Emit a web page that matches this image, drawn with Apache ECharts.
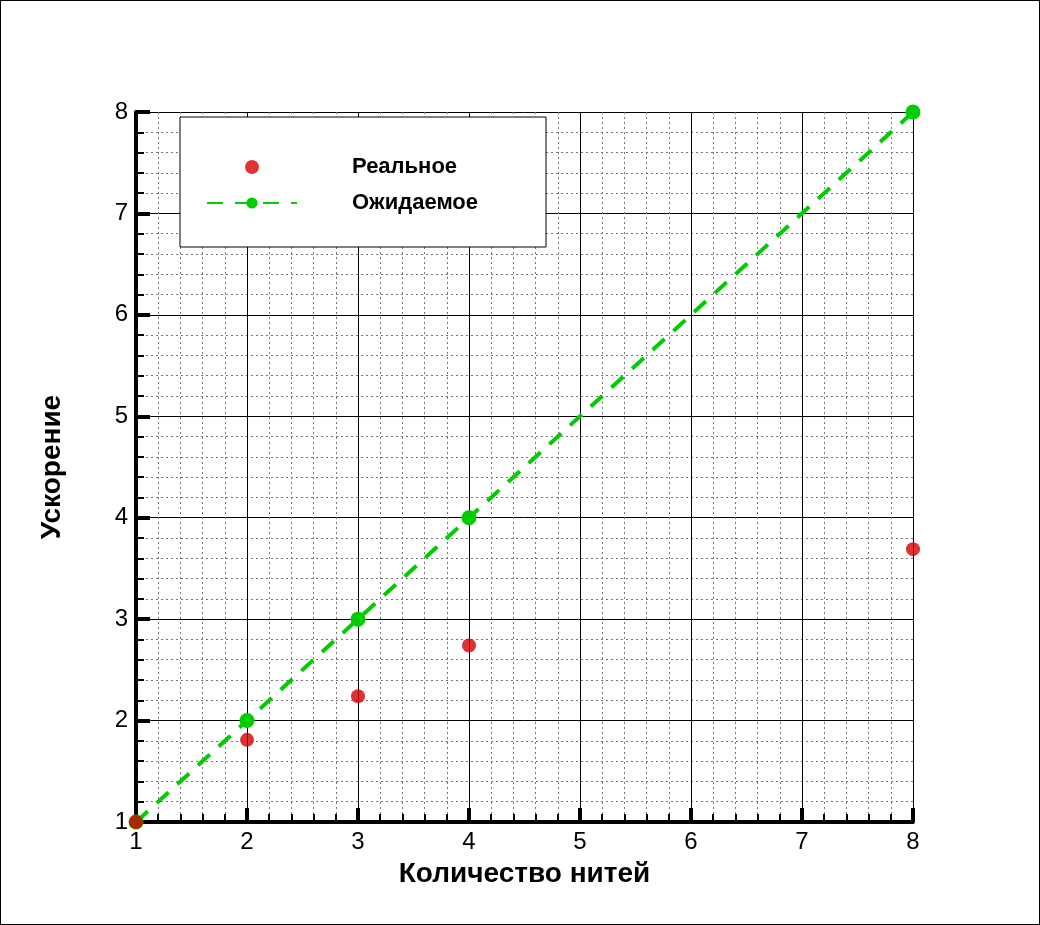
<!DOCTYPE html>
<html>
<head>
<meta charset="utf-8">
<script src="https://cdn.jsdelivr.net/npm/echarts@6/dist/echarts.min.js"></script>
<style>
  html, body { margin: 0; padding: 0; background: #fff; }
  #chart { width: 1038px; height: 923px; border: 1px solid #000; }
</style>
</head>
<body>
<div id="chart"></div>
<script>
const threads = [1, 2, 3, 4, 8]
const realSpeedup = [1, 1.81, 2.24, 2.74, 3.69]
const expectedSpeedup = [1, 2, 3, 4, 8]

const chart = echarts.init(document.getElementById('chart'))
const axisCommon = {
  type: 'value',
  min: 1,
  max: 8,
  interval: 1,
  minorTick: { show: true, splitNumber: 5, inside: true, length: 8, lineStyle: { color: '#000', width: 2 } },
  axisTick: { inside: true, length: 14, lineStyle: { color: '#000', width: 4 } },
  axisLine: { show: true, onZero: false, lineStyle: { color: '#000', width: 4 } },
  axisLabel: { color: '#000', fontSize: 24, fontFamily: 'Liberation Sans', margin: 8 },
  splitLine: { show: true, lineStyle: { color: '#000', width: 1 } },
  minorSplitLine: { show: true, lineStyle: { color: '#777', width: 1, type: [2, 3] } },
  nameLocation: 'middle',
  nameTextStyle: { color: '#000', fontSize: 28, fontWeight: 'bold', fontFamily: 'Liberation Sans' }
}

chart.setOption({
  animation: false,
  grid: { left: 135, right: 126, top: 111, bottom: 102 },
  xAxis: Object.assign({}, axisCommon, { name: 'Количество нитей', nameGap: 38 }),
  yAxis: Object.assign({}, axisCommon, { name: 'Ускорение', nameGap: 70 }),
  graphic: [{
    type: 'rect',
    shape: { x: 179, y: 116, width: 366, height: 130 },
    style: { fill: '#fff', stroke: '#000', lineWidth: 1 },
    z: 10
  }],
  legend: {
    left: 200,
    top: 150,
    orient: 'vertical',
    itemGap: 14,
    itemWidth: 90,
    itemHeight: 14,
    z: 20,
    textStyle: { fontSize: 22, fontWeight: 'bold', color: '#000', fontFamily: 'Liberation Sans', padding: [0, 0, 0, 50] },
    data: ['Реальное', 'Ожидаемое']
  },
  series: [{
    name: 'Реальное',
    type: 'scatter',
    symbol: 'circle',
    symbolSize: 14,
    itemStyle: { color: '#d40000' },
    data: threads.map((t, i) => [t, realSpeedup[i]]),
    z: 5
  }, {
    name: 'Ожидаемое',
    type: 'line',
    symbol: 'circle',
    symbolSize: 15,
    itemStyle: { color: '#00cc00' },
    lineStyle: { color: '#00cc00', width: 4, type: [16, 12] },
    data: threads.map((t, i) => [t, expectedSpeedup[i]]),
    z: 4
  }]
})
</script>
</body>
</html>
